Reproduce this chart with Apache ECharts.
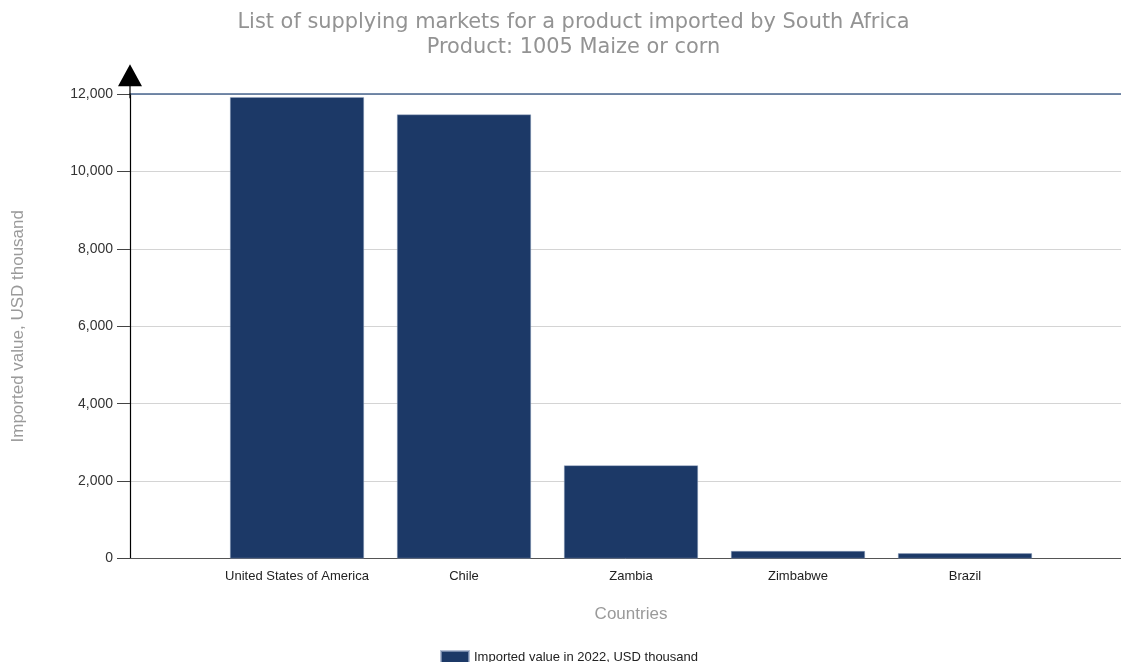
<!DOCTYPE html>
<html>
<head>
<meta charset="utf-8">
<script src="https://cdn.jsdelivr.net/npm/echarts@6/dist/echarts.min.js"></script>
<style>
html,body{margin:0;padding:0;background:#fff;}
#chart{width:1121px;height:662px;}
</style>
</head>
<body>
<div id="chart"></div>
<script>
const titleText = 'List of supplying markets for a product imported by South Africa\nProduct: 1005 Maize or corn';
const countries = ['United States of America', 'Chile', 'Zambia', 'Zimbabwe', 'Brazil'];
const values2022 = [11920, 11470, 2406, 194, 134];
const seriesName = 'Imported value in 2022, USD thousand';
const yAxisName = 'Imported value, USD thousand';
const xAxisName = 'Countries';
const yTicks = { min: 0, max: 12000, interval: 2000 };

// pad one empty slot at each end so bars sit at whole-slot positions like the original
const axisCats = [''].concat(countries, [' ']);
const seriesData = ['-'].concat(values2022, ['-']);

const chart = echarts.init(document.getElementById('chart'), null, {renderer: 'canvas'});
chart.setOption({
  animation: false,
  backgroundColor: '#ffffff',
  title: {
    text: titleText,
    left: 573.5,
    top: 10,
    padding: 0,
    textAlign: 'center',
    textStyle: {
      fontFamily: 'DejaVu Sans',
      fontSize: 20.9,
      fontWeight: 'normal',
      color: '#939393',
      lineHeight: 25
    }
  },
  legend: {
    left: 440,
    top: 650,
    padding: 0,
    itemWidth: 28,
    itemHeight: 12,
    itemGap: 10,
    textStyle: { fontFamily: 'Liberation Sans', fontSize: 13, color: '#222' },
    data: [{ name: seriesName, icon: 'rect' }]
  },
  grid: { left: 130, right: -11, top: 94, bottom: 103.5, containLabel: false, outerBoundsMode: 'none' },
  xAxis: [{
    type: 'category',
    data: axisCats,
    boundaryGap: false,
    name: xAxisName,
    nameLocation: 'middle',
    nameGap: 47,
    nameTextStyle: { fontFamily: 'Liberation Sans', fontSize: 17, color: '#9a9a9a' },
    axisLine: { show: true, lineStyle: { color: '#555', width: 1 } },
    axisTick: { show: false },
    axisLabel: { margin: 11, interval: 0, fontFamily: 'Liberation Sans', fontSize: 13, color: '#222' },
    splitLine: { show: false }
  }, {
    type: 'category',
    position: 'top',
    data: axisCats,
    boundaryGap: false,
    axisLine: { show: true, lineStyle: { color: '#4a6790', width: 1.5 } },
    axisTick: { show: false },
    axisLabel: { show: false },
    splitLine: { show: false }
  }],
  yAxis: {
    type: 'value',
    min: yTicks.min,
    max: yTicks.max,
    interval: yTicks.interval,
    name: yAxisName,
    nameLocation: 'middle',
    nameGap: 103,
    nameTextStyle: { fontFamily: 'Liberation Sans', fontSize: 17, color: '#9a9a9a' },
    axisLine: {
      show: true,
      lineStyle: { color: '#000', width: 1.2 },
      symbol: ['none', 'path://M12,0 L24,22 L0,22 Z M11.4,21 L12.6,21 L12.6,34 L11.4,34 Z'],
      symbolSize: [24, 34],
      symbolOffset: [0, 12.7]
    },
    axisTick: { show: true, length: 13, lineStyle: { color: '#444', width: 1 } },
    axisLabel: {
      margin: 17,
      fontFamily: 'Liberation Sans',
      fontSize: 14,
      color: '#333',
      formatter: function (v) { return v.toLocaleString('en-US'); }
    },
    splitLine: { show: true, lineStyle: { color: '#d4d4d4', width: 1 } }
  },
  series: [{
    name: seriesName,
    type: 'bar',
    data: seriesData,
    barWidth: 134,
    itemStyle: { color: '#1c3967', borderColor: 'rgba(150,165,195,0.7)', borderWidth: 0.6 }
  }]
});
</script>
</body>
</html>
